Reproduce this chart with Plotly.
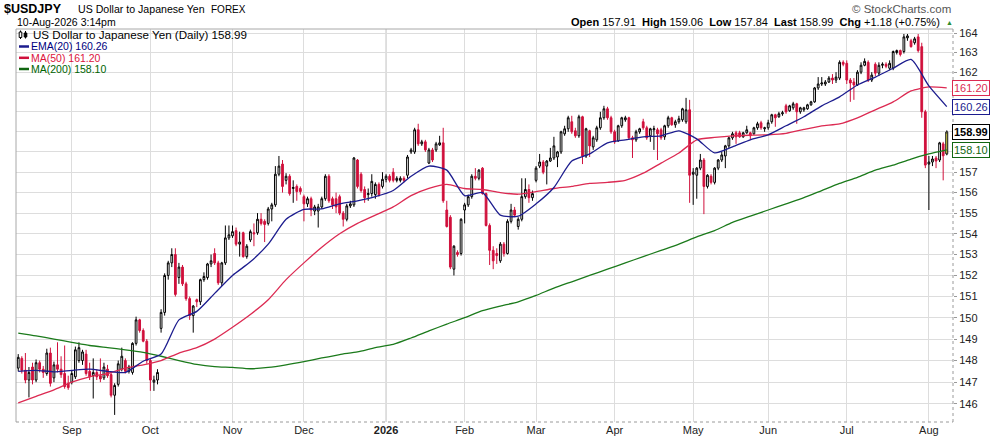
import math
import pandas as pd
import plotly.graph_objects as go

# daily sessions shown on the chart (weekdays, forex)
dates = pd.bdate_range("2025-08-11", "2026-08-10")

# OHLC, one line per week
opens = [
    147.65, 148.1, 147.55, 147.1, 147.7,
    147.1, 147.9, 147.6, 147.4, 148.35,
    147.2, 147.8, 147.6, 147.4, 146.95,
    147.0, 147.25, 148.0, 148.0, 148.3,
    147.5, 147.3, 147.45, 147.3, 147.2,
    147.6, 147.35, 146.4, 146.9, 147.6,
    148.0, 147.5, 147.45, 148.8, 149.9,
    149.4, 148.9, 148.0, 147.0, 147.1,
    149.5, 150.25, 152.0, 152.6, 153.0,
    151.9, 152.4, 151.6, 150.9, 150.1,
    150.85, 150.75, 151.8, 151.9, 152.55,
    153.05, 152.6, 151.65, 152.6, 153.8,
    153.9, 154.15, 153.5, 154.05, 152.9,
    153.7, 154.05, 154.05, 154.7, 154.6,
    154.5, 155.2, 155.4, 156.9, 157.4,
    156.6, 156.8, 156.2, 156.3, 156.2,
    155.8, 155.45, 155.7, 155.1, 155.1,
    155.3, 155.7, 156.8, 155.7, 155.7,
    155.8, 155.0, 154.7, 155.35, 155.4,
    157.6, 156.9, 156.15, 155.9, 155.95,
    155.9, 156.4, 156.3, 156.65, 156.8,
    157.0, 156.6, 156.6, 156.7, 156.85,
    158.0, 158.0, 159.1, 158.4, 158.5,
    157.45, 158.1, 158.1, 158.35, 158.45,
    155.15, 154.8, 152.3, 153.1, 153.05,
    155.15, 155.4, 155.8, 156.8, 156.7,
    157.2, 155.95, 154.4, 153.2, 153.05,
    152.7, 153.5, 153.05, 154.6, 155.15,
    154.35, 154.7, 155.8, 156.15, 155.75,
    156.6, 157.3, 157.5, 157.3, 157.55,
    157.7, 157.75, 158.0, 158.9, 159.15,
    159.5, 159.05, 158.8, 159.75, 157.8,
    159.05, 158.25, 158.6, 159.2, 159.7,
    160.15, 159.7, 159.0, 158.55, 159.3,
    159.6, 159.7, 158.7, 158.6, 159.0,
    159.5, 159.2, 158.8, 159.1, 159.1,
    159.1, 158.75, 159.3, 159.7, 159.35,
    159.5, 159.6, 159.5, 160.1, 156.9,
    156.85, 157.2, 157.6, 156.3, 156.8,
    156.5, 157.2, 157.6, 157.8, 158.3,
    158.7, 158.95, 158.95, 158.75, 158.95,
    158.95, 158.9, 159.2, 159.45, 159.15,
    159.2, 159.5, 159.85, 159.75, 159.9,
    160.3, 160.05, 160.2, 160.4, 160.0,
    160.1, 160.15, 160.35, 160.5, 161.2,
    161.4, 161.4, 161.5, 161.7, 161.6,
    161.7, 162.5, 162.45, 161.6, 161.5,
    161.35, 162.0, 162.35, 162.5, 161.6,
    162.4, 161.95, 162.35, 162.4, 162.2,
    162.2, 163.0, 163.1, 163.05, 163.75,
    163.6, 163.5, 163.8, 163.3, 160.0,
    157.4, 157.5, 157.7, 157.6, 158.4,
    157.91,
]
highs = [
    148.3, 148.2, 148.35, 147.7, 147.9,
    148.05, 148.0, 147.75, 148.55, 148.6,
    147.95, 148.85, 148.2, 148.7, 147.3,
    147.55, 148.65, 148.85, 148.5, 148.5,
    147.9, 148.1, 147.6, 148.1, 147.9,
    147.8, 147.45, 146.95, 148.0, 148.6,
    148.1, 147.8, 148.85, 150.05, 149.95,
    149.5, 149.0, 148.1, 147.3, 147.6,
    150.4, 152.1, 152.7, 153.3, 153.3,
    152.6, 152.5, 151.7, 151.0, 150.6,
    150.9, 151.85, 152.15, 152.6, 153.0,
    153.3, 152.7, 152.65, 154.4, 154.4,
    154.4, 154.3, 154.1, 154.1, 153.5,
    154.2, 154.5, 155.0, 155.0, 154.7,
    155.3, 155.5, 157.3, 157.8, 157.6,
    156.95, 156.9, 156.6, 156.4, 156.3,
    155.9, 155.8, 155.8, 155.4, 155.45,
    155.8, 156.9, 156.9, 155.8, 156.0,
    155.9, 155.1, 155.45, 155.6, 157.75,
    157.65, 157.0, 156.3, 156.2, 156.9,
    156.5, 156.5, 157.0, 156.9, 156.9,
    157.2, 156.8, 156.8, 156.8, 157.85,
    158.2, 159.2, 159.4, 158.6, 158.6,
    158.2, 158.2, 158.5, 158.8, 159.2,
    155.6, 154.9, 153.45, 153.2, 154.75,
    155.5, 155.9, 156.9, 157.2, 157.15,
    157.25, 156.0, 154.5, 153.4, 153.3,
    153.6, 153.6, 154.7, 155.45, 155.3,
    154.8, 156.7, 156.7, 156.4, 156.1,
    157.3, 157.9, 157.6, 157.6, 158.2,
    158.75, 158.05, 159.05, 159.3, 159.8,
    159.8, 159.2, 159.85, 159.8, 159.2,
    159.1, 158.8, 159.3, 160.0, 160.3,
    160.25, 159.8, 159.1, 159.35, 159.75,
    159.8, 159.75, 158.8, 159.1, 159.2,
    159.65, 159.3, 159.2, 159.3, 159.2,
    159.2, 159.35, 159.8, 159.75, 159.6,
    159.8, 160.2, 160.7, 160.6, 157.2,
    157.25, 157.9, 157.7, 156.9, 156.9,
    157.25, 157.65, 158.0, 158.35, 158.75,
    159.0, 159.05, 159.05, 159.0, 159.3,
    159.0, 159.25, 159.5, 159.55, 159.25,
    159.6, 159.9, 159.9, 160.0, 160.05,
    160.4, 160.35, 160.5, 160.45, 160.25,
    160.25, 160.4, 160.55, 161.25, 161.75,
    161.75, 161.6, 161.8, 161.9, 162.0,
    162.6, 162.6, 162.6, 161.7, 161.7,
    162.1, 162.5, 162.7, 162.6, 162.0,
    162.5, 162.5, 162.5, 162.5, 162.6,
    163.1, 163.15, 163.15, 163.95, 163.95,
    163.7, 163.8, 163.95, 163.5, 160.1,
    157.8, 157.8, 157.8, 158.5, 158.5,
    159.06,
]
lows = [
    147.5, 147.4, 146.95, 146.3, 146.9,
    147.0, 147.45, 147.2, 147.3, 146.8,
    147.0, 147.45, 147.2, 146.7, 146.65,
    146.9, 147.15, 147.9, 147.8, 147.3,
    147.1, 146.25, 147.1, 147.0, 147.1,
    147.2, 146.3, 145.5, 146.8, 147.5,
    147.4, 147.4, 147.35, 148.7, 149.3,
    148.85, 147.85, 146.6, 146.6, 146.9,
    149.3, 150.1, 151.8, 152.4, 151.0,
    151.6, 151.5, 150.8, 149.9, 149.3,
    150.5, 150.6, 151.7, 151.8, 152.4,
    152.5, 151.55, 151.5, 152.5, 153.7,
    153.8, 153.4, 152.9, 152.85, 152.8,
    153.6, 153.4, 153.95, 154.4, 153.6,
    154.4, 154.6, 155.3, 156.8, 156.0,
    156.4, 155.85, 155.5, 155.6, 155.9,
    154.6, 155.3, 154.85, 154.9, 154.3,
    155.2, 155.6, 155.5, 155.2, 155.0,
    154.9, 154.35, 154.6, 155.25, 155.3,
    156.2, 156.0, 155.5, 155.6, 155.8,
    155.7, 155.8, 156.2, 156.5, 156.5,
    156.5, 156.5, 156.5, 156.5, 156.7,
    157.9, 157.9, 158.3, 158.3, 158.0,
    157.4, 157.5, 158.0, 158.3, 155.5,
    154.3, 152.3, 152.0, 152.9, 152.95,
    154.5, 155.3, 155.7, 156.6, 156.6,
    155.9, 154.35, 152.5, 152.3, 152.55,
    152.6, 152.9, 153.0, 154.5, 154.8,
    154.2, 154.6, 155.7, 155.5, 155.6,
    156.5, 157.2, 156.9, 156.4, 157.5,
    157.6, 157.25, 157.9, 158.8, 159.0,
    158.9, 158.7, 158.7, 157.4, 157.7,
    157.75, 158.1, 158.5, 159.1, 159.6,
    159.6, 158.9, 158.4, 158.5, 159.2,
    159.5, 158.6, 157.7, 158.5, 158.9,
    159.1, 158.6, 158.5, 158.1, 157.6,
    158.6, 158.6, 159.2, 159.3, 159.2,
    159.4, 159.5, 159.4, 155.5, 155.4,
    155.7, 157.1, 154.95, 156.2, 156.4,
    156.4, 157.1, 157.5, 157.2, 158.2,
    158.6, 158.4, 158.7, 158.7, 158.9,
    158.6, 158.85, 159.1, 159.1, 159.0,
    159.1, 159.4, 159.25, 159.7, 159.8,
    159.9, 160.0, 160.1, 159.4, 159.9,
    160.0, 160.1, 160.3, 160.45, 161.1,
    161.3, 161.3, 161.45, 161.4, 161.45,
    161.6, 162.3, 161.4, 160.5, 160.6,
    161.3, 161.9, 162.3, 161.5, 161.5,
    161.8, 161.8, 162.2, 162.2, 162.1,
    162.1, 162.9, 162.8, 162.95, 163.6,
    163.25, 163.4, 163.0, 159.7, 157.2,
    155.15, 157.3, 157.2, 157.5, 156.6,
    157.84,
]
closes = [
    148.15, 147.55, 147.1, 147.45, 147.1,
    147.9, 147.6, 147.45, 148.35, 146.95,
    147.8, 147.6, 147.35, 146.8, 146.75,
    147.4, 148.5, 148.6, 148.4, 147.4,
    147.25, 147.45, 147.25, 147.15, 147.7,
    147.3, 146.4, 146.85, 147.85, 148.2,
    147.5, 147.7, 148.8, 149.9, 149.4,
    148.9, 148.0, 147.1, 147.1, 147.45,
    150.25, 152.0, 152.6, 153.0, 151.1,
    152.4, 151.6, 150.9, 150.1, 150.55,
    150.75, 151.8, 151.95, 152.55, 152.7,
    152.6, 151.65, 152.6, 153.8, 153.95,
    154.1, 153.5, 153.6, 152.9, 153.4,
    154.1, 154.0, 154.7, 154.5, 154.45,
    155.2, 155.4, 156.9, 157.3, 156.3,
    156.8, 155.95, 156.25, 156.05, 156.05,
    155.45, 155.7, 155.15, 155.3, 155.3,
    155.7, 156.8, 155.6, 155.4, 155.3,
    155.0, 154.7, 155.35, 155.45, 157.7,
    156.3, 156.1, 155.75, 155.95, 156.55,
    156.4, 155.9, 156.65, 156.8, 156.6,
    156.6, 156.7, 156.7, 156.6, 157.75,
    158.1, 159.1, 158.4, 158.5, 158.1,
    158.1, 157.6, 158.4, 158.45, 155.6,
    154.35, 152.4, 153.4, 153.0, 154.7,
    155.4, 155.8, 156.8, 156.7, 157.1,
    155.95, 154.4, 153.2, 152.7, 152.95,
    153.5, 153.05, 154.6, 155.15, 154.9,
    154.7, 155.8, 156.15, 155.75, 155.95,
    157.2, 157.5, 157.0, 157.55, 157.7,
    158.3, 158.0, 159.0, 159.15, 159.7,
    159.0, 158.8, 159.75, 157.8, 159.15,
    158.3, 158.7, 159.2, 159.7, 160.15,
    159.7, 159.0, 158.5, 159.3, 159.7,
    159.7, 158.7, 158.6, 159.0, 159.15,
    159.2, 158.7, 159.15, 159.15, 158.9,
    158.7, 159.3, 159.7, 159.35, 159.5,
    159.65, 160.15, 160.1, 156.85, 157.0,
    157.2, 157.6, 156.3, 156.85, 156.5,
    157.2, 157.6, 157.85, 158.3, 158.7,
    158.9, 158.75, 158.75, 158.95, 159.1,
    158.8, 159.2, 159.4, 159.2, 159.2,
    159.45, 159.85, 159.7, 159.9, 159.95,
    160.0, 160.3, 160.4, 160.0, 160.2,
    160.2, 160.35, 160.5, 161.2, 161.4,
    161.45, 161.5, 161.7, 161.6, 161.75,
    162.5, 162.4, 161.6, 161.45, 161.35,
    162.0, 162.35, 162.55, 161.6, 161.85,
    161.95, 162.35, 162.4, 162.3, 162.45,
    163.05, 163.1, 162.9, 163.8, 163.85,
    163.3, 163.7, 163.1, 160.0, 157.35,
    157.5, 157.65, 157.55, 158.45, 157.81,
    158.99,
]

# overlays read once a week (every 5th session)
ma_dates = dates[::5]
ema20 = [147.5, 147.55, 147.48, 147.55, 147.6, 147.5, 147.45, 147.97, 148.3, 149.9,
         150.3, 151.15, 152.0, 152.65, 153.5, 154.7, 155.18, 155.2, 155.45, 155.6,
         155.8, 156.1, 156.8, 157.3, 157.1, 155.85, 156.0, 154.9, 154.85, 155.45,
         156.25, 157.55, 157.9, 158.45, 158.6, 158.75, 158.8, 159.05, 158.65, 157.95,
         158.25, 158.6, 158.85, 159.3, 159.75, 160.3, 160.75, 161.35, 161.75, 162.2,
         162.65, 161.3, 160.26]
ma50 = [146.05, 146.35, 146.65, 147.0, 147.25, 147.4, 147.65, 147.8, 148.0, 148.35,
        148.6, 149.0, 149.55, 150.15, 150.85, 151.8, 152.6, 153.35, 154.0, 154.5,
        154.9, 155.3, 155.85, 156.2, 156.4, 156.2, 156.15, 156.0, 155.92, 156.05,
        156.2, 156.3, 156.45, 156.5, 156.6, 156.95, 157.45, 157.95, 158.6, 158.72,
        158.8, 158.83, 158.85, 158.92, 159.12, 159.3, 159.4, 159.7, 160.1, 160.5,
        161.05, 161.25, 161.2]
ma200 = [149.28, 149.15, 149.0, 148.85, 148.7, 148.6, 148.5, 148.38, 148.2, 148.0,
         147.82, 147.72, 147.68, 147.62, 147.68, 147.8, 147.95, 148.12, 148.28, 148.4,
         148.6, 148.75, 149.05, 149.38, 149.7, 150.0, 150.33, 150.55, 150.75, 151.05,
         151.4, 151.7, 152.0, 152.3, 152.6, 152.9, 153.2, 153.5, 153.85, 154.15,
         154.55, 154.85, 155.15, 155.45, 155.75, 156.1, 156.45, 156.75, 157.1, 157.35,
         157.65, 157.9, 158.1]

month_ticks = ["2025-09-01", "2025-10-01", "2025-11-03", "2025-12-01", "2026-01-01", "2026-02-02",
               "2026-03-02", "2026-04-01", "2026-05-01", "2026-06-01", "2026-07-01", "2026-08-03"]
month_labels = ["Sep", "Oct", "Nov", "Dec", "<b>2026</b>", "Feb", "Mar", "Apr", "May", "Jun", "Jul", "Aug"]
price_ticks = list(range(146, 165))
hidden_ticks = [158, 159, 160, 161]   # sit under the value tags

RED = "#d0103c"
NAVY = "#1c1c8e"
CRIMSON = "#dc2a52"
GREEN = "#1b7a1b"
FONT = "Liberation Sans"

# plot box in pixels
L, R, T, B = 16, 952.7, 29, 422


def fx(p):
    return (p - L) / (R - L)


def fy(p):
    return (B - p) / (B - T)


fig = go.Figure()

fig.add_trace(go.Candlestick(
    x=dates, open=opens, high=highs, low=lows, close=closes,
    increasing=dict(line=dict(color="#000000", width=1), fillcolor="#ffffff"),
    decreasing=dict(line=dict(color=RED, width=1), fillcolor=RED),
    whiskerwidth=0, showlegend=False, hoverinfo="skip",
))

# last bar highlighted in yellow
n = len(dates)
fig.add_trace(go.Candlestick(
    x=dates,
    open=[None] * (n - 1) + [opens[-1]],
    high=[None] * (n - 1) + [highs[-1]],
    low=[None] * (n - 1) + [lows[-1]],
    close=[None] * (n - 1) + [closes[-1]],
    increasing=dict(line=dict(color="#333333", width=1), fillcolor="#f6f23a"),
    decreasing=dict(line=dict(color="#333333", width=1), fillcolor="#f6f23a"),
    whiskerwidth=0, showlegend=False, hoverinfo="skip",
))

for vals, col in [(ma200, GREEN), (ma50, CRIMSON), (ema20, NAVY)]:
    fig.add_trace(go.Scatter(
        x=ma_dates, y=vals, mode="lines",
        line=dict(color=col, width=1.3, shape="spline", smoothing=0.6),
        showlegend=False, hoverinfo="skip",
    ))

ylo = 164 * math.exp(-(B - 33) / 3190.9)
yhi = 164 * math.exp((33 - T) / 3190.9)

fig.update_layout(
    width=990, height=438,
    margin=dict(l=L, r=990 - R, t=T, b=438 - B, autoexpand=False),
    paper_bgcolor="white", plot_bgcolor="white",
    font=dict(family=FONT, size=11, color="#222222"),
    xaxis=dict(
        type="date", automargin=False,
        rangebreaks=[dict(bounds=["sat", "mon"])],
        range=["2025-08-08 09:00", "2026-08-11 18:00"],
        tickmode="array", tickvals=month_ticks, ticktext=month_labels,
        showgrid=True, gridcolor="#dddddd", gridwidth=1,
        showline=False, zeroline=False, ticks="",
        rangeslider=dict(visible=False),
        tickfont=dict(size=11, color="#222222"),
    ),
    yaxis=dict(
        type="log", side="right", automargin=False,
        range=[math.log10(ylo), math.log10(yhi)],
        tickmode="array", tickvals=price_ticks,
        ticktext=["" if v in hidden_ticks else str(v) for v in price_ticks],
        showgrid=True, gridcolor="#dddddd", gridwidth=1,
        showline=False, zeroline=False,
        ticks="outside", ticklen=3, tickcolor="#999999",
        tickfont=dict(size=11, color="#222222"),
    ),
)

shapes = [
    dict(type="line", xref="paper", yref="paper", x0=0, x1=1, y0=1, y1=1, line=dict(color="#a8a8a8", width=1)),
    dict(type="line", xref="paper", yref="paper", x0=0, x1=0, y0=0, y1=1, line=dict(color="#a8a8a8", width=1)),
    dict(type="line", xref="paper", yref="paper", x0=0, x1=1, y0=0, y1=0, line=dict(color="#9a9a9a", width=1, dash="dot")),
    dict(type="line", xref="paper", yref="paper", x0=1, x1=1, y0=0, y1=1, line=dict(color="#9a9a9a", width=1, dash="dot")),
    # darker year gridline
    dict(type="line", xref="x", yref="paper", x0="2026-01-01", x1="2026-01-01", y0=0, y1=1,
         line=dict(color="#bdbdbd", width=1), layer="below"),
    # little candle icon in the legend
    dict(type="line", xref="paper", yref="paper", x0=fx(20.5), x1=fx(20.5), y0=fy(39), y1=fy(30.5), line=dict(color="#000", width=1)),
    dict(type="rect", xref="paper", yref="paper", x0=fx(19.2), x1=fx(21.8), y0=fy(37.5), y1=fy(32), line=dict(color="#000", width=1), fillcolor="white"),
    dict(type="line", xref="paper", yref="paper", x0=fx(25.5), x1=fx(25.5), y0=fy(38.5), y1=fy(31), line=dict(color="#000", width=1)),
    dict(type="rect", xref="paper", yref="paper", x0=fx(24.2), x1=fx(26.8), y0=fy(37), y1=fy(33), line=dict(color="#000", width=1), fillcolor="#000"),
]
for yy, col in [(46.5, NAVY), (57.8, RED), (69, "#116611")]:
    shapes.append(dict(type="line", xref="paper", yref="paper", x0=fx(19), x1=fx(29), y0=fy(yy), y1=fy(yy),
                       line=dict(color=col, width=2.5)))
fig.update_layout(shapes=shapes)

ann = []


# texts placed by figure pixel, converted to paper fractions of the plot box
def ptext(x, y, s, size=11, color="#000", anchor="left", family=FONT):
    ann.append(dict(x=fx(x), y=fy(y), xref="paper", yref="paper", text=s, showarrow=False,
                    xanchor=anchor, yanchor="middle", font=dict(size=size, color=color, family=family)))


ptext(2, 9, "<b>$USDJPY</b>", size=12.5)
ptext(76, 9.5, "US Dollar to Japanese Yen", size=10.6)
ptext(209, 10, "FOREX", size=10)
ptext(15, 22, "10-Aug-2026 3:14pm", size=10.5)
ptext(953, 8.5, "© StockCharts.com", size=11.5, color="#555555", anchor="right")
ptext(942, 22.5, "<b>Open</b> 157.91  <b>High</b> 159.06  <b>Low</b> 157.84  <b>Last</b> 158.99  <b>Chg</b> +1.18 (+0.75%)",
      size=11, anchor="right")
ptext(943.5, 22, "▲", size=7, color="#2e8b2e")

# legend rows inside the plot
ptext(30.5, 34.5, "US Dollar to Japanese Yen (Daily) %.2f" % closes[-1], size=11.6)
ptext(28.5, 46.5, "EMA(20) %.2f" % ema20[-1], size=10.5, color="#000080")
ptext(28.5, 57.8, "MA(50) %.2f" % ma50[-1], size=10.5, color="#dc143c")
ptext(28.5, 69, "MA(200) %.2f" % ma200[-1], size=10.5, color="#006400")

# value tags on the right axis
for v, col, bold in [(ma50[-1], CRIMSON, False), (ema20[-1], NAVY, False),
                     (closes[-1], "#000000", True), (ma200[-1], "#116611", False)]:
    s = "%.2f" % v
    ann.append(dict(x=1, y=math.log10(v), xref="paper", yref="y", xanchor="left", yanchor="middle",
                    xshift=-1, text="<b>%s</b>" % s if bold else s, showarrow=False,
                    font=dict(size=11, color=col, family=FONT),
                    bgcolor="white", bordercolor=col, borderwidth=1, borderpad=1))

fig.update_layout(annotations=ann)

# the page would otherwise add the browser's default 8px body margin
fig.write_html("out.html", config={"displayModeBar": False},
               post_script="document.body.style.margin='0px';")
